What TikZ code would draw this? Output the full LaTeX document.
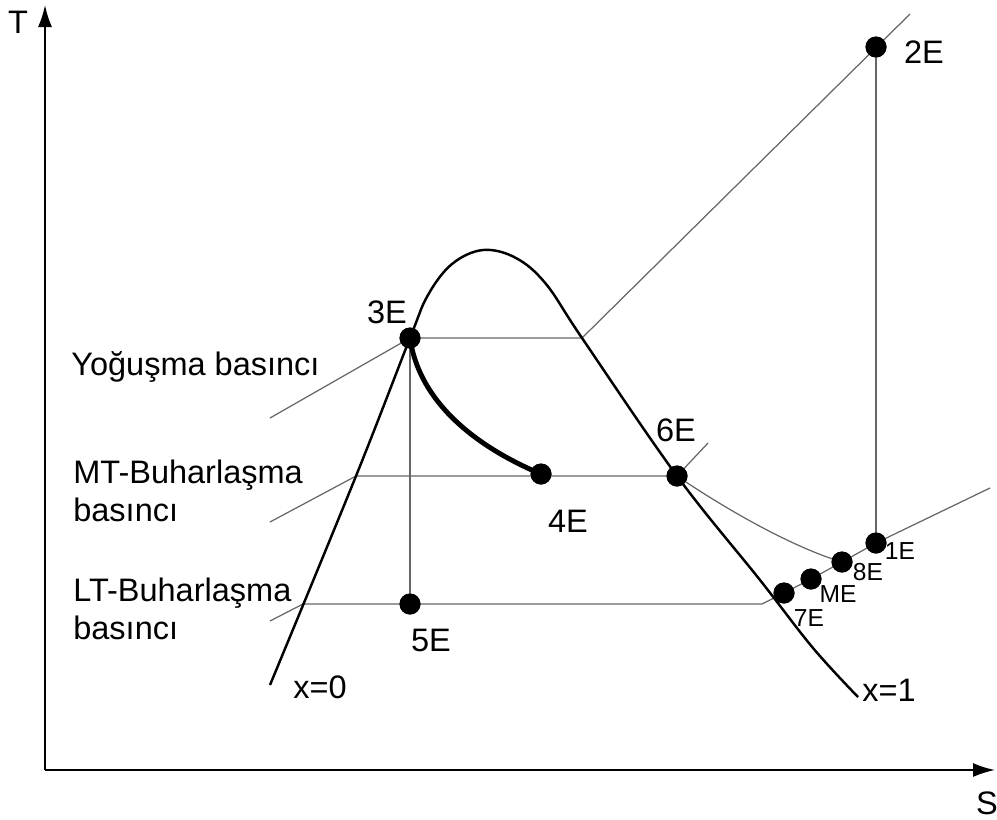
\documentclass[tikz,border=0pt]{standalone}
\usepackage{fontspec}
\setmainfont{Liberation Sans}
\usetikzlibrary{arrows.meta,positioning,calc}

\tikzset{
  state/.style={circle,fill=black,inner sep=0pt,minimum size=0.42cm},
  isobar/.style={black!60,line width=0.7pt},
  dome/.style={black,line width=1.4pt},
  axis/.style={line width=1.1pt,-{Latex[length=4.4mm,width=2.8mm]}},
  lbl/.style={font=\fontsize{18.5}{21.5}\selectfont,inner sep=0pt},
  slbl/.style={font=\fontsize{14}{17}\selectfont,inner sep=0pt},
}

\begin{document}
\begin{tikzpicture}[x=0.02cm,y=-0.02cm]
\useasboundingbox (0,0) rectangle (997,819);
% axes
\coordinate (O) at (45,770);
\coordinate (Ttip) at (45,5);
\coordinate (Stip) at (995,770);
\draw[axis] (O) -- (Ttip);
\draw[axis] (O) -- (Stip);
\node[lbl] (T) at (18,22) {T};
\node[lbl] (S) at (987,803) {S};

% state points
\node[state] (3E) at (410,338) {};
\node[state] (4E) at (541,474) {};
\node[state] (5E) at (410,604) {};
\node[state] (6E) at (677,476) {};
\node[state] (2E) at (876,47) {};
\node[state] (1E) at (876,543) {};
\node[state] (8E) at (842,562) {};
\node[state] (ME) at (811,579) {};
\node[state] (7E) at (784,593) {};

% free ends of the isobars
\coordinate (yb0) at (270,418);
\coordinate (yb1) at (582,338);
\coordinate (yb2) at (910,14);
\coordinate (mt0) at (270,522);
\coordinate (mt1) at (356,476);
\coordinate (mt2) at (708,443);
\coordinate (lt0) at (270,621);
\coordinate (lt1) at (303,604);
\coordinate (lt2) at (762,604);
\coordinate (lt3) at (990,488);

% isobars
\draw[isobar] (yb0) -- (3E.center) -- (yb1) -- (yb2);
\draw[isobar] (mt0) -- (mt1) -- (6E.center) -- (mt2);
\draw[isobar] (6E.center) .. controls (730,512) and (795,548) .. (8E.center);
\draw[isobar] (lt0) -- (lt1) -- (5E.center) -- (lt2) -- (7E.center) -- (ME.center) -- (8E.center) -- (1E.center) -- (lt3);
\draw[isobar] (2E.center) -- (1E.center);
\draw[isobar] (3E.center) -- (5E.center);

% saturation dome
\draw[dome] plot[smooth,tension=0.6] coordinates {(270,685) (356,476) (410,338) (428,295) (452,264) (483,250) (516,258) (546,284) (582,338) (677,476) (760,580) (813,648) (858,697)};

% throttling
\draw[line width=2.8pt] (3E.center) .. controls (418,395) and (465,442) .. (4E.center);

% redraw dots on top
\foreach \p in {3E,4E,5E,6E,2E,1E,8E,ME,7E}
  \fill (\p) circle (0.21cm);

% labels
\node[lbl] (l2E) at (924,52) {2E};
\node[lbl] (l3E) at (387,312) {3E};
\node[lbl] (l4E) at (568,521) {4E};
\node[lbl] (l5E) at (431,640) {5E};
\node[lbl] (l6E) at (676,430) {6E};
\node[slbl] (l1E) at (900,551) {1E};
\node[slbl] (l8E) at (868,572) {8E};
\node[slbl] (lME) at (838,594) {ME};
\node[slbl] (l7E) at (809,618) {7E};
\node[lbl] (x0) at (320,687) {x=0};
\node[lbl] (x1) at (889,690) {x=1};

\node[lbl,anchor=west] (yog) at (71,367) {Yoğuşma basıncı};
\node[lbl,anchor=west,align=left] (mtp) at (73,491) {MT-Buharlaşma\\basıncı};
\node[lbl,anchor=west,align=left] (ltp) at (73,609) {LT-Buharlaşma\\basıncı};
\end{tikzpicture}
\end{document}
